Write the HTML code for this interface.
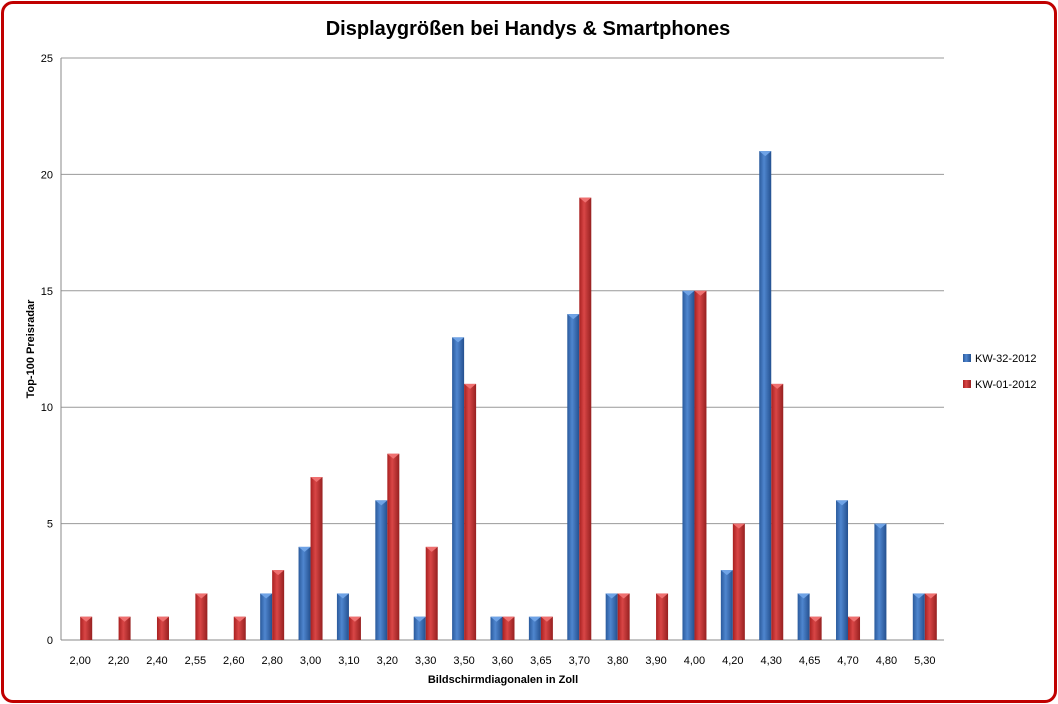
<!DOCTYPE html>
<html><head><meta charset="utf-8"><style>
body{margin:0;background:#fff;font-family:"Liberation Sans",sans-serif}
#frame{position:absolute;left:1px;top:1px;width:1050px;height:696px;border:3px solid #c00000;border-radius:12px;background:#fff}
</style></head><body>
<div id="frame"></div>
<svg id="c" width="1058" height="704" style="position:absolute;left:0;top:0">
<defs>
<linearGradient id="gb" x1="0" x2="1"><stop offset="0" stop-color="#2a5a9c"/><stop offset="0.4" stop-color="#4f86cf"/><stop offset="1" stop-color="#24508f"/></linearGradient>
<linearGradient id="gr" x1="0" x2="1"><stop offset="0" stop-color="#a82020"/><stop offset="0.4" stop-color="#d94646"/><stop offset="1" stop-color="#962020"/></linearGradient>
</defs>
</svg>
<script>
const categories=["2,00","2,20","2,40","2,55","2,60","2,80","3,00","3,10","3,20","3,30","3,50","3,60","3,65","3,70","3,80","3,90","4,00","4,20","4,30","4,65","4,70","4,80","5,30"];
const kw32=[0,0,0,0,0,2,4,2,6,1,13,1,1,14,2,0,15,3,21,2,6,5,2];
const kw01=[1,1,1,2,1,3,7,1,8,4,11,1,1,19,2,2,15,5,11,1,1,0,2];
const yTicks=[0,5,10,15,20,25];
const svg=document.getElementById('c');const NS='http://www.w3.org/2000/svg';
const L=61,R=944,T=58,B=640,yMax=25;
const cw=(R-L)/categories.length,bw=12;
function y(v){return B-(v/yMax)*(B-T);}
function xc(i){return L+cw*(i+0.5);}
function mk(t,a,txt){const e=document.createElementNS(NS,t);for(const k in a)e.setAttribute(k,a[k]);if(txt!=null)e.textContent=txt;svg.appendChild(e);return e;}
let e=mk('text',{x:528,y:35,'text-anchor':'middle','font-size':20,'font-weight':'bold',fill:'#000'},'Displaygrößen bei Handys & Smartphones');


yTicks.forEach(t=>{
 const g=mk('line',{x1:L,x2:R,y1:y(t),y2:y(t),stroke:t===0?'#888':'#999','stroke-width':1});
 
 
 const l=mk('text',{x:L-8,y:y(t)+4,'text-anchor':'end','font-size':11},t);
 
 
});
e=mk('line',{x1:L,x2:L,y1:T,y2:B,stroke:'#888'});


categories.forEach((c,i)=>{
 const l=mk('text',{x:xc(i),y:664,'text-anchor':'middle','font-size':11},c);
 
 
 [[kw32[i],xc(i)-bw,'url(#gb)','#6fa3e6','bar-kw32'],[kw01[i],xc(i),'url(#gr)','#ef7070','bar-kw01']].forEach(([v,x,f,top,n])=>{
  if(v<=0)return;
  const r=mk('rect',{x:x,y:y(v),width:bw,height:B-y(v),fill:f});
  
  
  const p=mk('polygon',{points:`${x},${y(v)} ${x+bw},${y(v)} ${x+bw/2},${y(v)+5}`,fill:top});
  
  
 });
});
e=mk('text',{x:503,y:683,'text-anchor':'middle','font-size':11,'font-weight':'bold'},'Bildschirmdiagonalen  in Zoll');


e=mk('text',{x:34,y:349,'text-anchor':'middle','font-size':11,'font-weight':'bold',transform:'rotate(-90 34 349)'},'Top-100 Preisradar');


[['KW-32-2012','url(#gb)',359],['KW-01-2012','url(#gr)',385]].forEach(([t,f,yy])=>{
 const r=mk('rect',{x:963,y:yy-5,width:8,height:8,fill:f});
 
 
 const l=mk('text',{x:975,y:yy+3,'font-size':11},t);
 
 
});
</script>
</body></html>
